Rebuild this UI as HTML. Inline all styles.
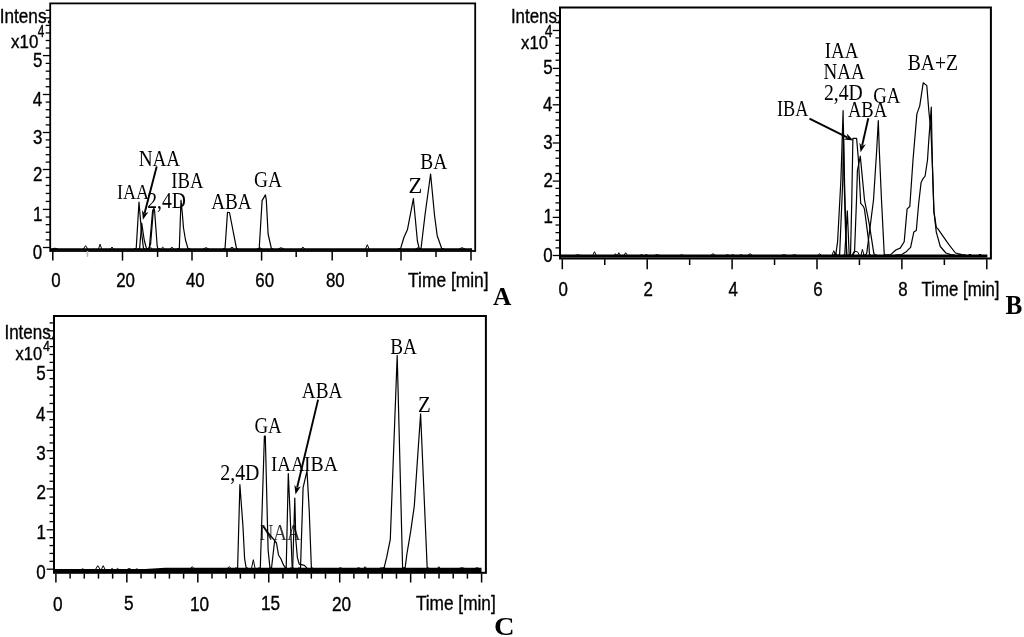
<!DOCTYPE html>
<html><head><meta charset="utf-8"><style>
html,body{margin:0;padding:0;background:#fff;}
svg{display:block;will-change:transform;}
</style></head><body>
<svg width="1024" height="637" viewBox="0 0 1024 637">
<rect width="1024" height="637" fill="#fff"/>
<rect x="50.20" y="3.40" width="425.00" height="247.60" fill="none" stroke="#000" stroke-width="1.8"/>
<line x1="42.90" y1="55.60" x2="50.20" y2="55.60" stroke="#000" stroke-width="1.3"/>
<line x1="42.90" y1="94.50" x2="50.20" y2="94.50" stroke="#000" stroke-width="1.3"/>
<line x1="42.90" y1="132.50" x2="50.20" y2="132.50" stroke="#000" stroke-width="1.3"/>
<line x1="42.90" y1="169.50" x2="50.20" y2="169.50" stroke="#000" stroke-width="1.3"/>
<line x1="42.90" y1="209.40" x2="50.20" y2="209.40" stroke="#000" stroke-width="1.3"/>
<line x1="42.90" y1="247.50" x2="50.20" y2="247.50" stroke="#000" stroke-width="1.3"/>
<line x1="45.70" y1="239.88" x2="50.20" y2="239.88" stroke="#000" stroke-width="1.3"/>
<line x1="45.70" y1="232.26" x2="50.20" y2="232.26" stroke="#000" stroke-width="1.3"/>
<line x1="45.70" y1="224.64" x2="50.20" y2="224.64" stroke="#000" stroke-width="1.3"/>
<line x1="45.70" y1="217.02" x2="50.20" y2="217.02" stroke="#000" stroke-width="1.3"/>
<line x1="45.70" y1="201.42" x2="50.20" y2="201.42" stroke="#000" stroke-width="1.3"/>
<line x1="45.70" y1="193.44" x2="50.20" y2="193.44" stroke="#000" stroke-width="1.3"/>
<line x1="45.70" y1="185.46" x2="50.20" y2="185.46" stroke="#000" stroke-width="1.3"/>
<line x1="45.70" y1="177.48" x2="50.20" y2="177.48" stroke="#000" stroke-width="1.3"/>
<line x1="45.70" y1="162.10" x2="50.20" y2="162.10" stroke="#000" stroke-width="1.3"/>
<line x1="45.70" y1="154.70" x2="50.20" y2="154.70" stroke="#000" stroke-width="1.3"/>
<line x1="45.70" y1="147.30" x2="50.20" y2="147.30" stroke="#000" stroke-width="1.3"/>
<line x1="45.70" y1="139.90" x2="50.20" y2="139.90" stroke="#000" stroke-width="1.3"/>
<line x1="45.70" y1="124.90" x2="50.20" y2="124.90" stroke="#000" stroke-width="1.3"/>
<line x1="45.70" y1="117.30" x2="50.20" y2="117.30" stroke="#000" stroke-width="1.3"/>
<line x1="45.70" y1="109.70" x2="50.20" y2="109.70" stroke="#000" stroke-width="1.3"/>
<line x1="45.70" y1="102.10" x2="50.20" y2="102.10" stroke="#000" stroke-width="1.3"/>
<line x1="45.70" y1="86.72" x2="50.20" y2="86.72" stroke="#000" stroke-width="1.3"/>
<line x1="45.70" y1="78.94" x2="50.20" y2="78.94" stroke="#000" stroke-width="1.3"/>
<line x1="45.70" y1="71.16" x2="50.20" y2="71.16" stroke="#000" stroke-width="1.3"/>
<line x1="45.70" y1="63.38" x2="50.20" y2="63.38" stroke="#000" stroke-width="1.3"/>
<line x1="45.70" y1="48.05" x2="50.20" y2="48.05" stroke="#000" stroke-width="1.3"/>
<line x1="45.70" y1="40.50" x2="50.20" y2="40.50" stroke="#000" stroke-width="1.3"/>
<line x1="45.70" y1="32.95" x2="50.20" y2="32.95" stroke="#000" stroke-width="1.3"/>
<line x1="45.70" y1="25.40" x2="50.20" y2="25.40" stroke="#000" stroke-width="1.3"/>
<line x1="45.70" y1="10.30" x2="50.20" y2="10.30" stroke="#000" stroke-width="1.3"/>
<line x1="42.90" y1="17.85" x2="50.20" y2="17.85" stroke="#000" stroke-width="1.3"/>
<text transform="translate(32.92,66.75) scale(0.870,1)" font-family='"Liberation Sans", sans-serif' font-weight="normal" font-size="19.40" fill="#000" stroke="#000" stroke-width="0.35" >5</text>
<text transform="translate(32.71,105.65) scale(0.870,1)" font-family='"Liberation Sans", sans-serif' font-weight="normal" font-size="19.40" fill="#000" stroke="#000" stroke-width="0.35" >4</text>
<text transform="translate(32.95,143.85) scale(0.870,1)" font-family='"Liberation Sans", sans-serif' font-weight="normal" font-size="19.40" fill="#000" stroke="#000" stroke-width="0.35" >3</text>
<text transform="translate(33.06,180.85) scale(0.870,1)" font-family='"Liberation Sans", sans-serif' font-weight="normal" font-size="19.40" fill="#000" stroke="#000" stroke-width="0.35" >2</text>
<text transform="translate(33.04,220.55) scale(0.870,1)" font-family='"Liberation Sans", sans-serif' font-weight="normal" font-size="19.40" fill="#000" stroke="#000" stroke-width="0.35" >1</text>
<text transform="translate(32.87,258.85) scale(0.870,1)" font-family='"Liberation Sans", sans-serif' font-weight="normal" font-size="19.40" fill="#000" stroke="#000" stroke-width="0.35" >0</text>
<line x1="52.80" y1="251.00" x2="52.80" y2="260.60" stroke="#000" stroke-width="1.5"/>
<line x1="122.50" y1="251.00" x2="122.50" y2="260.60" stroke="#000" stroke-width="1.5"/>
<line x1="192.00" y1="251.00" x2="192.00" y2="260.60" stroke="#000" stroke-width="1.5"/>
<line x1="261.60" y1="251.00" x2="261.60" y2="260.60" stroke="#000" stroke-width="1.5"/>
<line x1="332.20" y1="251.00" x2="332.20" y2="260.60" stroke="#000" stroke-width="1.5"/>
<line x1="401.00" y1="251.00" x2="401.00" y2="260.60" stroke="#000" stroke-width="1.5"/>
<line x1="471.00" y1="251.00" x2="471.00" y2="260.60" stroke="#000" stroke-width="1.5"/>
<line x1="87.50" y1="251.00" x2="87.50" y2="256.90" stroke="#bbb" stroke-width="1.5"/>
<line x1="157.60" y1="251.00" x2="157.60" y2="256.90" stroke="#000" stroke-width="1.5"/>
<line x1="227.00" y1="251.00" x2="227.00" y2="256.90" stroke="#000" stroke-width="1.5"/>
<line x1="296.20" y1="251.00" x2="296.20" y2="256.90" stroke="#000" stroke-width="1.5"/>
<line x1="367.00" y1="251.00" x2="367.00" y2="256.90" stroke="#000" stroke-width="1.5"/>
<line x1="436.00" y1="251.00" x2="436.00" y2="256.90" stroke="#000" stroke-width="1.5"/>
<text transform="translate(51.31,286.95) scale(0.870,1)" font-family='"Liberation Sans", sans-serif' font-weight="normal" font-size="19.40" fill="#000" stroke="#000" stroke-width="0.35" >0</text>
<text transform="translate(116.22,286.95) scale(0.870,1)" font-family='"Liberation Sans", sans-serif' font-weight="normal" font-size="19.40" fill="#000" stroke="#000" stroke-width="0.35" >20</text>
<text transform="translate(185.95,286.95) scale(0.870,1)" font-family='"Liberation Sans", sans-serif' font-weight="normal" font-size="19.40" fill="#000" stroke="#000" stroke-width="0.35" >40</text>
<text transform="translate(255.31,286.95) scale(0.870,1)" font-family='"Liberation Sans", sans-serif' font-weight="normal" font-size="19.40" fill="#000" stroke="#000" stroke-width="0.35" >60</text>
<text transform="translate(325.98,286.95) scale(0.870,1)" font-family='"Liberation Sans", sans-serif' font-weight="normal" font-size="19.40" fill="#000" stroke="#000" stroke-width="0.35" >80</text>
<text transform="translate(408.11,286.90) scale(0.879,1)" font-family='"Liberation Sans", sans-serif' font-weight="normal" font-size="19.77" fill="#000" stroke="#000" stroke-width="0.35" >Time [min]</text>
<text transform="translate(492.95,304.60) scale(0.969,1)" font-family='"Liberation Serif", serif' font-weight="bold" font-size="26.21" fill="#000" >A</text>
<text transform="translate(-0.29,22.70) scale(0.863,1)" font-family='"Liberation Sans", sans-serif' font-weight="normal" font-size="19.91" fill="#000" stroke="#000" stroke-width="0.35" >Intens.</text>
<text transform="translate(11.11,47.70) scale(0.922,1)" font-family='"Liberation Sans", sans-serif' font-weight="normal" font-size="18.33" fill="#000" stroke="#000" stroke-width="0.35" >x10</text>
<text transform="translate(37.83,37.20) scale(0.725,1)" font-family='"Liberation Sans", sans-serif' font-weight="normal" font-size="16.42" fill="#000" stroke="#000" stroke-width="0.35" >4</text>
<text transform="translate(138.65,166.00) scale(0.862,1)" font-family='"Liberation Serif", serif' font-weight="normal" font-size="22.27" fill="#000" >NAA</text>
<text transform="translate(116.95,199.40) scale(0.824,1)" font-family='"Liberation Serif", serif' font-weight="normal" font-size="21.96" fill="#000" >IAA</text>
<text transform="translate(147.24,208.30) scale(0.883,1)" font-family='"Liberation Serif", serif' font-weight="normal" font-size="22.20" fill="#000" >2,4D</text>
<text transform="translate(171.32,187.70) scale(0.823,1)" font-family='"Liberation Serif", serif' font-weight="normal" font-size="22.72" fill="#000" >IBA</text>
<text transform="translate(211.21,208.50) scale(0.845,1)" font-family='"Liberation Serif", serif' font-weight="normal" font-size="22.72" fill="#000" >ABA</text>
<text transform="translate(254.00,186.50) scale(0.829,1)" font-family='"Liberation Serif", serif' font-weight="normal" font-size="23.41" fill="#000" >GA</text>
<text transform="translate(408.52,193.00) scale(1.015,1)" font-family='"Liberation Serif", serif' font-weight="normal" font-size="22.30" fill="#000" >Z</text>
<text transform="translate(420.24,168.80) scale(0.855,1)" font-family='"Liberation Serif", serif' font-weight="normal" font-size="22.72" fill="#000" >BA</text>
<line x1="156.70" y1="166.50" x2="144.65" y2="213.02" stroke="#000" stroke-width="1.9"/>
<polygon points="142.9,219.8 142.0,210.3 144.5,213.5 148.4,211.9" fill="#000"/>
<line x1="50.20" y1="249.30" x2="472.10" y2="249.30" stroke="#000" stroke-width="2.2"/>
<polyline points="134.0,248.7 136.2,248.7 139.0,202.0 141.5,232.0 143.5,248.7 145.0,248.7" fill="none" stroke="#000" stroke-width="1.2" stroke-linejoin="round" />
<polyline points="138.0,248.7 139.6,248.7 141.7,223.0 144.2,240.0 146.5,248.7 148.0,248.7" fill="none" stroke="#000" stroke-width="1.2" stroke-linejoin="round" />
<polyline points="146.5,248.7 149.2,248.7 149.6,245.0 152.6,211.0 153.9,208.2 154.6,211.0 157.2,246.0 157.8,248.7 160.0,248.7" fill="none" stroke="#000" stroke-width="1.2" stroke-linejoin="round" />
<polyline points="148.5,248.7 150.6,244.0 153.4,209.5" fill="none" stroke="#000" stroke-width="1.2" stroke-linejoin="round" />
<polyline points="177.0,248.7 179.3,248.7 181.0,200.2 182.3,213.0 183.5,228.0 185.5,240.0 188.0,248.7 190.0,248.7" fill="none" stroke="#000" stroke-width="1.2" stroke-linejoin="round" />
<polyline points="223.0,248.7 225.0,248.7 227.5,212.3 229.5,212.5 236.5,248.7 238.0,248.7" fill="none" stroke="#000" stroke-width="1.2" stroke-linejoin="round" />
<polyline points="257.0,248.7 259.2,248.7 262.1,200.6 265.4,194.9 266.3,200.0 268.1,234.0 271.4,248.7 273.0,248.7" fill="none" stroke="#000" stroke-width="1.2" stroke-linejoin="round" />
<polyline points="398.0,248.7 400.6,248.7 403.9,237.5 407.5,229.4 413.4,198.7 417.4,241.0 419.2,248.7 421.0,248.7" fill="none" stroke="#000" stroke-width="1.2" stroke-linejoin="round" />
<polyline points="419.0,248.7 421.0,248.7 425.0,215.0 430.6,174.0 434.5,215.0 437.2,235.7 441.8,248.7 444.0,248.7" fill="none" stroke="#000" stroke-width="1.2" stroke-linejoin="round" />
<polyline points="51.8,249.0 54.8,248.2 57.8,249.0" fill="none" stroke="#000" stroke-width="1.0" stroke-linejoin="round" />
<polyline points="83.4,249.0 85.6,245.7 87.8,249.0" fill="none" stroke="#000" stroke-width="1.0" stroke-linejoin="round" />
<polyline points="98.5,249.0 100.1,244.2 101.7,249.0" fill="none" stroke="#000" stroke-width="1.0" stroke-linejoin="round" />
<polyline points="110.0,249.0 112.0,247.2 114.0,249.0" fill="none" stroke="#000" stroke-width="1.0" stroke-linejoin="round" />
<polyline points="148.4,249.0 150.4,247.2 152.4,249.0" fill="none" stroke="#000" stroke-width="1.0" stroke-linejoin="round" />
<polyline points="160.7,249.0 162.7,247.2 164.7,249.0" fill="none" stroke="#000" stroke-width="1.0" stroke-linejoin="round" />
<polyline points="169.9,249.0 171.9,247.2 173.9,249.0" fill="none" stroke="#000" stroke-width="1.0" stroke-linejoin="round" />
<polyline points="203.0,249.0 206.0,247.7 209.0,249.0" fill="none" stroke="#000" stroke-width="1.0" stroke-linejoin="round" />
<polyline points="229.5,249.0 232.0,247.2 234.5,249.0" fill="none" stroke="#000" stroke-width="1.0" stroke-linejoin="round" />
<polyline points="258.0,249.0 260.0,247.7 262.0,249.0" fill="none" stroke="#000" stroke-width="1.0" stroke-linejoin="round" />
<polyline points="278.0,249.0 281.0,247.7 284.0,249.0" fill="none" stroke="#000" stroke-width="1.0" stroke-linejoin="round" />
<polyline points="300.9,249.0 302.9,247.2 304.9,249.0" fill="none" stroke="#000" stroke-width="1.0" stroke-linejoin="round" />
<polyline points="365.5,249.0 367.3,244.7 369.1,249.0" fill="none" stroke="#000" stroke-width="1.0" stroke-linejoin="round" />
<polyline points="415.5,249.0 418.0,247.7 420.5,249.0" fill="none" stroke="#000" stroke-width="1.0" stroke-linejoin="round" />
<polyline points="459.0,249.0 462.0,247.7 465.0,249.0" fill="none" stroke="#000" stroke-width="1.0" stroke-linejoin="round" />
<rect x="560.00" y="7.50" width="430.90" height="251.00" fill="none" stroke="#000" stroke-width="2.0"/>
<line x1="552.70" y1="255.50" x2="560.00" y2="255.50" stroke="#000" stroke-width="1.3"/>
<line x1="555.50" y1="247.88" x2="560.00" y2="247.88" stroke="#000" stroke-width="1.3"/>
<line x1="555.50" y1="240.26" x2="560.00" y2="240.26" stroke="#000" stroke-width="1.3"/>
<line x1="555.50" y1="232.64" x2="560.00" y2="232.64" stroke="#000" stroke-width="1.3"/>
<line x1="555.50" y1="225.02" x2="560.00" y2="225.02" stroke="#000" stroke-width="1.3"/>
<text transform="translate(543.27,261.75) scale(0.870,1)" font-family='"Liberation Sans", sans-serif' font-weight="normal" font-size="19.40" fill="#000" stroke="#000" stroke-width="0.35" >0</text>
<line x1="552.70" y1="217.40" x2="560.00" y2="217.40" stroke="#000" stroke-width="1.3"/>
<line x1="555.50" y1="210.14" x2="560.00" y2="210.14" stroke="#000" stroke-width="1.3"/>
<line x1="555.50" y1="202.88" x2="560.00" y2="202.88" stroke="#000" stroke-width="1.3"/>
<line x1="555.50" y1="195.62" x2="560.00" y2="195.62" stroke="#000" stroke-width="1.3"/>
<line x1="555.50" y1="188.36" x2="560.00" y2="188.36" stroke="#000" stroke-width="1.3"/>
<text transform="translate(543.44,223.45) scale(0.870,1)" font-family='"Liberation Sans", sans-serif' font-weight="normal" font-size="19.40" fill="#000" stroke="#000" stroke-width="0.35" >1</text>
<line x1="552.70" y1="181.10" x2="560.00" y2="181.10" stroke="#000" stroke-width="1.3"/>
<line x1="555.50" y1="173.48" x2="560.00" y2="173.48" stroke="#000" stroke-width="1.3"/>
<line x1="555.50" y1="165.86" x2="560.00" y2="165.86" stroke="#000" stroke-width="1.3"/>
<line x1="555.50" y1="158.24" x2="560.00" y2="158.24" stroke="#000" stroke-width="1.3"/>
<line x1="555.50" y1="150.62" x2="560.00" y2="150.62" stroke="#000" stroke-width="1.3"/>
<text transform="translate(543.46,187.35) scale(0.870,1)" font-family='"Liberation Sans", sans-serif' font-weight="normal" font-size="19.40" fill="#000" stroke="#000" stroke-width="0.35" >2</text>
<line x1="552.70" y1="143.00" x2="560.00" y2="143.00" stroke="#000" stroke-width="1.3"/>
<line x1="555.50" y1="135.36" x2="560.00" y2="135.36" stroke="#000" stroke-width="1.3"/>
<line x1="555.50" y1="127.72" x2="560.00" y2="127.72" stroke="#000" stroke-width="1.3"/>
<line x1="555.50" y1="120.08" x2="560.00" y2="120.08" stroke="#000" stroke-width="1.3"/>
<line x1="555.50" y1="112.44" x2="560.00" y2="112.44" stroke="#000" stroke-width="1.3"/>
<text transform="translate(543.35,149.25) scale(0.870,1)" font-family='"Liberation Sans", sans-serif' font-weight="normal" font-size="19.40" fill="#000" stroke="#000" stroke-width="0.35" >3</text>
<line x1="552.70" y1="104.80" x2="560.00" y2="104.80" stroke="#000" stroke-width="1.3"/>
<line x1="555.50" y1="97.52" x2="560.00" y2="97.52" stroke="#000" stroke-width="1.3"/>
<line x1="555.50" y1="90.24" x2="560.00" y2="90.24" stroke="#000" stroke-width="1.3"/>
<line x1="555.50" y1="82.96" x2="560.00" y2="82.96" stroke="#000" stroke-width="1.3"/>
<line x1="555.50" y1="75.68" x2="560.00" y2="75.68" stroke="#000" stroke-width="1.3"/>
<text transform="translate(543.11,110.85) scale(0.870,1)" font-family='"Liberation Sans", sans-serif' font-weight="normal" font-size="19.40" fill="#000" stroke="#000" stroke-width="0.35" >4</text>
<line x1="552.70" y1="68.40" x2="560.00" y2="68.40" stroke="#000" stroke-width="1.3"/>
<text transform="translate(543.32,74.45) scale(0.870,1)" font-family='"Liberation Sans", sans-serif' font-weight="normal" font-size="19.40" fill="#000" stroke="#000" stroke-width="0.35" >5</text>
<line x1="555.50" y1="60.20" x2="560.00" y2="60.20" stroke="#000" stroke-width="1.3"/>
<line x1="555.50" y1="53.30" x2="560.00" y2="53.30" stroke="#000" stroke-width="1.3"/>
<line x1="555.50" y1="45.40" x2="560.00" y2="45.40" stroke="#000" stroke-width="1.3"/>
<line x1="555.50" y1="37.90" x2="560.00" y2="37.90" stroke="#000" stroke-width="1.3"/>
<line x1="555.50" y1="22.60" x2="560.00" y2="22.60" stroke="#000" stroke-width="1.3"/>
<line x1="555.50" y1="15.70" x2="560.00" y2="15.70" stroke="#000" stroke-width="1.3"/>
<line x1="552.70" y1="30.50" x2="560.00" y2="30.50" stroke="#000" stroke-width="1.3"/>
<line x1="562.30" y1="259.30" x2="562.30" y2="269.20" stroke="#000" stroke-width="1.5"/>
<line x1="604.75" y1="259.30" x2="604.75" y2="265.00" stroke="#000" stroke-width="1.5"/>
<line x1="647.20" y1="259.30" x2="647.20" y2="269.20" stroke="#000" stroke-width="1.5"/>
<line x1="689.65" y1="259.30" x2="689.65" y2="265.00" stroke="#000" stroke-width="1.5"/>
<line x1="732.10" y1="259.30" x2="732.10" y2="269.20" stroke="#000" stroke-width="1.5"/>
<line x1="774.55" y1="259.30" x2="774.55" y2="265.00" stroke="#000" stroke-width="1.5"/>
<line x1="817.00" y1="259.30" x2="817.00" y2="269.20" stroke="#000" stroke-width="1.5"/>
<line x1="859.45" y1="259.30" x2="859.45" y2="265.00" stroke="#000" stroke-width="1.5"/>
<line x1="901.90" y1="259.30" x2="901.90" y2="269.20" stroke="#000" stroke-width="1.5"/>
<line x1="944.35" y1="259.30" x2="944.35" y2="265.00" stroke="#000" stroke-width="1.5"/>
<line x1="986.80" y1="259.30" x2="986.80" y2="269.20" stroke="#000" stroke-width="1.5"/>
<text transform="translate(558.61,295.95) scale(0.870,1)" font-family='"Liberation Sans", sans-serif' font-weight="normal" font-size="19.40" fill="#000" stroke="#000" stroke-width="0.35" >0</text>
<text transform="translate(643.51,295.95) scale(0.870,1)" font-family='"Liberation Sans", sans-serif' font-weight="normal" font-size="19.40" fill="#000" stroke="#000" stroke-width="0.35" >2</text>
<text transform="translate(728.46,295.75) scale(0.870,1)" font-family='"Liberation Sans", sans-serif' font-weight="normal" font-size="19.40" fill="#000" stroke="#000" stroke-width="0.35" >4</text>
<text transform="translate(813.25,295.95) scale(0.870,1)" font-family='"Liberation Sans", sans-serif' font-weight="normal" font-size="19.40" fill="#000" stroke="#000" stroke-width="0.35" >6</text>
<text transform="translate(898.21,295.95) scale(0.870,1)" font-family='"Liberation Sans", sans-serif' font-weight="normal" font-size="19.40" fill="#000" stroke="#000" stroke-width="0.35" >8</text>
<text transform="translate(921.62,296.00) scale(0.851,1)" font-family='"Liberation Sans", sans-serif' font-weight="normal" font-size="19.77" fill="#000" stroke="#000" stroke-width="0.35" >Time [min]</text>
<text transform="translate(1005.58,313.60) scale(0.960,1)" font-family='"Liberation Serif", serif' font-weight="bold" font-size="26.27" fill="#000" >B</text>
<text transform="translate(510.94,22.70) scale(0.847,1)" font-family='"Liberation Sans", sans-serif' font-weight="normal" font-size="19.91" fill="#000" stroke="#000" stroke-width="0.35" >Intens.</text>
<text transform="translate(521.11,48.60) scale(0.887,1)" font-family='"Liberation Sans", sans-serif' font-weight="normal" font-size="18.76" fill="#000" stroke="#000" stroke-width="0.35" >x10</text>
<text transform="translate(544.68,36.50) scale(0.831,1)" font-family='"Liberation Sans", sans-serif' font-weight="normal" font-size="16.72" fill="#000" stroke="#000" stroke-width="0.35" >4</text>
<text transform="translate(824.71,57.60) scale(0.819,1)" font-family='"Liberation Serif", serif' font-weight="normal" font-size="23.18" fill="#000" >IAA</text>
<text transform="translate(823.55,78.70) scale(0.839,1)" font-family='"Liberation Serif", serif' font-weight="normal" font-size="22.72" fill="#000" >NAA</text>
<text transform="translate(823.93,99.80) scale(0.870,1)" font-family='"Liberation Serif", serif' font-weight="normal" font-size="22.65" fill="#000" >2,4D</text>
<text transform="translate(777.04,115.80) scale(0.802,1)" font-family='"Liberation Serif", serif' font-weight="normal" font-size="22.72" fill="#000" >IBA</text>
<text transform="translate(847.92,116.50) scale(0.834,1)" font-family='"Liberation Serif", serif' font-weight="normal" font-size="22.27" fill="#000" >ABA</text>
<text transform="translate(873.13,103.30) scale(0.832,1)" font-family='"Liberation Serif", serif' font-weight="normal" font-size="22.65" fill="#000" >GA</text>
<text transform="translate(907.73,69.90) scale(0.842,1)" font-family='"Liberation Serif", serif' font-weight="normal" font-size="23.33" fill="#000" >BA+Z</text>
<line x1="809.50" y1="118.60" x2="847.14" y2="137.38" stroke="#000" stroke-width="1.9"/>
<polygon points="853.4,140.5 843.9,139.4 847.6,137.6 846.8,133.5" fill="#000"/>
<line x1="868.30" y1="118.20" x2="862.14" y2="145.47" stroke="#000" stroke-width="1.9"/>
<polygon points="860.6,152.3 859.4,142.8 862.0,146.0 865.8,144.2" fill="#000"/>
<line x1="560.00" y1="256.00" x2="987.40" y2="256.00" stroke="#000" stroke-width="3.0"/>
<polyline points="832.0,255.2 835.7,255.2 837.6,241.7 840.9,180.0 843.1,110.7 844.1,180.0 845.5,230.0 847.0,255.2" fill="none" stroke="#000" stroke-width="1.2" stroke-linejoin="round" />
<polyline points="836.0,255.2 839.6,255.2 842.8,180.0 843.4,125.0 844.5,180.0 846.5,255.2" fill="none" stroke="#000" stroke-width="1.2" stroke-linejoin="round" />
<polyline points="843.0,255.2 844.7,255.2 847.3,210.8 849.2,255.2 851.0,255.2" fill="none" stroke="#000" stroke-width="1.2" stroke-linejoin="round" />
<polyline points="848.0,255.2 850.5,255.2 851.8,200.0 852.9,138.3 856.6,138.3 858.4,159.4 860.7,203.3 863.5,206.6 864.5,209.4 868.8,242.4 869.5,255.2 871.0,255.2" fill="none" stroke="#000" stroke-width="1.2" stroke-linejoin="round" />
<polyline points="852.0,255.2 854.6,250.8 856.5,200.0 857.4,170.7 860.3,156.1 864.5,200.0 869.2,223.6 873.9,253.8 875.5,255.2 877.0,255.2" fill="none" stroke="#000" stroke-width="1.2" stroke-linejoin="round" />
<polyline points="863.0,255.2 865.5,255.2 866.8,252.8 873.5,200.0 876.7,150.0 878.3,120.7 879.3,150.0 881.5,200.0 884.3,255.2 886.0,255.2" fill="none" stroke="#000" stroke-width="1.2" stroke-linejoin="round" />
<polyline points="885.0,255.2 890.6,254.6 896.2,249.7 900.2,248.1 904.2,241.7 907.1,208.9 909.8,206.5 913.0,160.0 916.9,113.9 919.7,106.1 923.2,82.8 926.8,85.6 928.9,111.8 931.0,131.6 932.4,165.0 933.9,211.3 936.3,227.3 937.9,228.9 949.1,244.9 955.5,253.0 961.9,254.6 966.0,255.2" fill="none" stroke="#000" stroke-width="1.2" stroke-linejoin="round" />
<polyline points="895.0,255.2 901.8,254.6 905.8,252.1 910.6,247.3 913.8,232.1 916.3,230.5 918.7,203.3 921.1,182.4 922.7,179.2 925.1,176.0 927.5,160.0 928.9,138.6 931.3,107.2 932.4,165.0 933.9,211.3 936.3,232.1 940.3,246.5 945.9,253.0 950.7,254.6 955.0,255.2" fill="none" stroke="#000" stroke-width="1.2" stroke-linejoin="round" />
<polyline points="832.0,255.2 833.8,250.7 835.5,255.2" fill="none" stroke="#000" stroke-width="1.0" stroke-linejoin="round" />
<polyline points="853.0,255.2 855.0,251.3 857.5,251.8 859.5,255.2" fill="none" stroke="#000" stroke-width="1.0" stroke-linejoin="round" />
<polyline points="861.0,255.2 862.4,249.4 864.0,255.2" fill="none" stroke="#000" stroke-width="1.0" stroke-linejoin="round" />
<polyline points="574.8,255.5 577.8,254.7 580.8,255.5" fill="none" stroke="#000" stroke-width="1.0" stroke-linejoin="round" />
<polyline points="592.7,255.5 594.5,251.7 596.3,255.5" fill="none" stroke="#000" stroke-width="1.0" stroke-linejoin="round" />
<polyline points="613.9,255.5 615.4,253.7 616.9,255.5" fill="none" stroke="#000" stroke-width="1.0" stroke-linejoin="round" />
<polyline points="617.3,255.5 618.8,252.7 620.3,255.5" fill="none" stroke="#000" stroke-width="1.0" stroke-linejoin="round" />
<polyline points="623.7,255.5 625.7,252.7 627.7,255.5" fill="none" stroke="#000" stroke-width="1.0" stroke-linejoin="round" />
<polyline points="639.4,255.5 641.4,254.7 643.4,255.5" fill="none" stroke="#000" stroke-width="1.0" stroke-linejoin="round" />
<polyline points="644.2,255.5 646.2,254.7 648.2,255.5" fill="none" stroke="#000" stroke-width="1.0" stroke-linejoin="round" />
<polyline points="654.1,255.5 657.1,254.7 660.1,255.5" fill="none" stroke="#000" stroke-width="1.0" stroke-linejoin="round" />
<polyline points="679.8,255.5 681.8,254.7 683.8,255.5" fill="none" stroke="#000" stroke-width="1.0" stroke-linejoin="round" />
<polyline points="710.5,255.5 713.0,253.7 715.5,255.5" fill="none" stroke="#000" stroke-width="1.0" stroke-linejoin="round" />
<polyline points="725.4,255.5 727.4,254.7 729.4,255.5" fill="none" stroke="#000" stroke-width="1.0" stroke-linejoin="round" />
<polyline points="730.8,255.5 732.8,254.7 734.8,255.5" fill="none" stroke="#000" stroke-width="1.0" stroke-linejoin="round" />
<polyline points="739.0,255.5 741.0,254.7 743.0,255.5" fill="none" stroke="#000" stroke-width="1.0" stroke-linejoin="round" />
<polyline points="747.5,255.5 750.0,253.7 752.5,255.5" fill="none" stroke="#000" stroke-width="1.0" stroke-linejoin="round" />
<polyline points="781.0,255.5 784.0,254.7 787.0,255.5" fill="none" stroke="#000" stroke-width="1.0" stroke-linejoin="round" />
<polyline points="791.4,255.5 794.4,254.7 797.4,255.5" fill="none" stroke="#000" stroke-width="1.0" stroke-linejoin="round" />
<polyline points="817.7,255.5 819.7,253.7 821.7,255.5" fill="none" stroke="#000" stroke-width="1.0" stroke-linejoin="round" />
<polyline points="833.9,255.5 835.4,252.7 836.9,255.5" fill="none" stroke="#000" stroke-width="1.0" stroke-linejoin="round" />
<polyline points="957.0,255.5 960.0,254.7 963.0,255.5" fill="none" stroke="#000" stroke-width="1.0" stroke-linejoin="round" />
<polyline points="968.0,255.5 970.0,254.2 972.0,255.5" fill="none" stroke="#000" stroke-width="1.0" stroke-linejoin="round" />
<polyline points="978.0,255.5 980.0,254.2 982.0,255.5" fill="none" stroke="#000" stroke-width="1.0" stroke-linejoin="round" />
<rect x="54.00" y="316.00" width="431.90" height="256.80" fill="none" stroke="#000" stroke-width="2.0"/>
<line x1="46.70" y1="370.30" x2="54.00" y2="370.30" stroke="#000" stroke-width="1.3"/>
<text transform="translate(36.33,379.78) scale(0.870,1)" font-family='"Liberation Sans", sans-serif' font-weight="normal" font-size="19.60" fill="#000" stroke="#000" stroke-width="0.35" >5</text>
<line x1="46.70" y1="411.80" x2="54.00" y2="411.80" stroke="#000" stroke-width="1.3"/>
<text transform="translate(36.12,421.28) scale(0.870,1)" font-family='"Liberation Sans", sans-serif' font-weight="normal" font-size="19.60" fill="#000" stroke="#000" stroke-width="0.35" >4</text>
<line x1="46.70" y1="450.70" x2="54.00" y2="450.70" stroke="#000" stroke-width="1.3"/>
<text transform="translate(36.37,460.39) scale(0.870,1)" font-family='"Liberation Sans", sans-serif' font-weight="normal" font-size="19.60" fill="#000" stroke="#000" stroke-width="0.35" >3</text>
<line x1="46.70" y1="488.90" x2="54.00" y2="488.90" stroke="#000" stroke-width="1.3"/>
<text transform="translate(36.47,498.59) scale(0.870,1)" font-family='"Liberation Sans", sans-serif' font-weight="normal" font-size="19.60" fill="#000" stroke="#000" stroke-width="0.35" >2</text>
<line x1="46.70" y1="529.80" x2="54.00" y2="529.80" stroke="#000" stroke-width="1.3"/>
<text transform="translate(36.45,539.28) scale(0.870,1)" font-family='"Liberation Sans", sans-serif' font-weight="normal" font-size="19.60" fill="#000" stroke="#000" stroke-width="0.35" >1</text>
<line x1="46.70" y1="569.20" x2="54.00" y2="569.20" stroke="#000" stroke-width="1.3"/>
<text transform="translate(36.28,578.89) scale(0.870,1)" font-family='"Liberation Sans", sans-serif' font-weight="normal" font-size="19.60" fill="#000" stroke="#000" stroke-width="0.35" >0</text>
<line x1="49.50" y1="561.32" x2="54.00" y2="561.32" stroke="#000" stroke-width="1.3"/>
<line x1="49.50" y1="553.44" x2="54.00" y2="553.44" stroke="#000" stroke-width="1.3"/>
<line x1="49.50" y1="545.56" x2="54.00" y2="545.56" stroke="#000" stroke-width="1.3"/>
<line x1="49.50" y1="537.68" x2="54.00" y2="537.68" stroke="#000" stroke-width="1.3"/>
<line x1="49.50" y1="521.62" x2="54.00" y2="521.62" stroke="#000" stroke-width="1.3"/>
<line x1="49.50" y1="513.44" x2="54.00" y2="513.44" stroke="#000" stroke-width="1.3"/>
<line x1="49.50" y1="505.26" x2="54.00" y2="505.26" stroke="#000" stroke-width="1.3"/>
<line x1="49.50" y1="497.08" x2="54.00" y2="497.08" stroke="#000" stroke-width="1.3"/>
<line x1="49.50" y1="481.26" x2="54.00" y2="481.26" stroke="#000" stroke-width="1.3"/>
<line x1="49.50" y1="473.62" x2="54.00" y2="473.62" stroke="#000" stroke-width="1.3"/>
<line x1="49.50" y1="465.98" x2="54.00" y2="465.98" stroke="#000" stroke-width="1.3"/>
<line x1="49.50" y1="458.34" x2="54.00" y2="458.34" stroke="#000" stroke-width="1.3"/>
<line x1="49.50" y1="442.92" x2="54.00" y2="442.92" stroke="#000" stroke-width="1.3"/>
<line x1="49.50" y1="435.14" x2="54.00" y2="435.14" stroke="#000" stroke-width="1.3"/>
<line x1="49.50" y1="427.36" x2="54.00" y2="427.36" stroke="#000" stroke-width="1.3"/>
<line x1="49.50" y1="419.58" x2="54.00" y2="419.58" stroke="#000" stroke-width="1.3"/>
<line x1="49.50" y1="403.50" x2="54.00" y2="403.50" stroke="#000" stroke-width="1.3"/>
<line x1="49.50" y1="395.20" x2="54.00" y2="395.20" stroke="#000" stroke-width="1.3"/>
<line x1="49.50" y1="386.90" x2="54.00" y2="386.90" stroke="#000" stroke-width="1.3"/>
<line x1="49.50" y1="378.60" x2="54.00" y2="378.60" stroke="#000" stroke-width="1.3"/>
<line x1="49.50" y1="362.40" x2="54.00" y2="362.40" stroke="#000" stroke-width="1.3"/>
<line x1="49.50" y1="354.50" x2="54.00" y2="354.50" stroke="#000" stroke-width="1.3"/>
<line x1="49.50" y1="346.60" x2="54.00" y2="346.60" stroke="#000" stroke-width="1.3"/>
<line x1="49.50" y1="338.70" x2="54.00" y2="338.70" stroke="#000" stroke-width="1.3"/>
<line x1="49.50" y1="322.90" x2="54.00" y2="322.90" stroke="#000" stroke-width="1.3"/>
<line x1="46.70" y1="330.80" x2="54.00" y2="330.80" stroke="#000" stroke-width="1.3"/>
<line x1="55.90" y1="573.50" x2="55.90" y2="582.50" stroke="#000" stroke-width="1.5"/>
<line x1="70.09" y1="573.50" x2="70.09" y2="578.60" stroke="#000" stroke-width="1.5"/>
<line x1="84.28" y1="573.50" x2="84.28" y2="578.60" stroke="#000" stroke-width="1.5"/>
<line x1="98.47" y1="573.50" x2="98.47" y2="578.60" stroke="#000" stroke-width="1.5"/>
<line x1="112.66" y1="573.50" x2="112.66" y2="578.60" stroke="#000" stroke-width="1.5"/>
<line x1="126.85" y1="573.50" x2="126.85" y2="582.50" stroke="#000" stroke-width="1.5"/>
<line x1="141.04" y1="573.50" x2="141.04" y2="578.60" stroke="#000" stroke-width="1.5"/>
<line x1="155.23" y1="573.50" x2="155.23" y2="578.60" stroke="#000" stroke-width="1.5"/>
<line x1="169.42" y1="573.50" x2="169.42" y2="578.60" stroke="#000" stroke-width="1.5"/>
<line x1="183.61" y1="573.50" x2="183.61" y2="578.60" stroke="#000" stroke-width="1.5"/>
<line x1="197.80" y1="573.50" x2="197.80" y2="582.50" stroke="#000" stroke-width="1.5"/>
<line x1="211.99" y1="573.50" x2="211.99" y2="578.60" stroke="#000" stroke-width="1.5"/>
<line x1="226.18" y1="573.50" x2="226.18" y2="578.60" stroke="#000" stroke-width="1.5"/>
<line x1="240.37" y1="573.50" x2="240.37" y2="578.60" stroke="#000" stroke-width="1.5"/>
<line x1="254.56" y1="573.50" x2="254.56" y2="578.60" stroke="#000" stroke-width="1.5"/>
<line x1="268.75" y1="573.50" x2="268.75" y2="582.50" stroke="#000" stroke-width="1.5"/>
<line x1="282.94" y1="573.50" x2="282.94" y2="578.60" stroke="#000" stroke-width="1.5"/>
<line x1="297.13" y1="573.50" x2="297.13" y2="578.60" stroke="#000" stroke-width="1.5"/>
<line x1="311.32" y1="573.50" x2="311.32" y2="578.60" stroke="#000" stroke-width="1.5"/>
<line x1="325.51" y1="573.50" x2="325.51" y2="578.60" stroke="#000" stroke-width="1.5"/>
<line x1="339.70" y1="573.50" x2="339.70" y2="582.50" stroke="#000" stroke-width="1.5"/>
<line x1="353.89" y1="573.50" x2="353.89" y2="578.60" stroke="#000" stroke-width="1.5"/>
<line x1="368.08" y1="573.50" x2="368.08" y2="578.60" stroke="#000" stroke-width="1.5"/>
<line x1="382.27" y1="573.50" x2="382.27" y2="578.60" stroke="#000" stroke-width="1.5"/>
<line x1="396.46" y1="573.50" x2="396.46" y2="578.60" stroke="#000" stroke-width="1.5"/>
<line x1="410.65" y1="573.50" x2="410.65" y2="582.50" stroke="#000" stroke-width="1.5"/>
<line x1="424.84" y1="573.50" x2="424.84" y2="578.60" stroke="#000" stroke-width="1.5"/>
<line x1="439.03" y1="573.50" x2="439.03" y2="578.60" stroke="#000" stroke-width="1.5"/>
<line x1="453.22" y1="573.50" x2="453.22" y2="578.60" stroke="#000" stroke-width="1.5"/>
<line x1="467.41" y1="573.50" x2="467.41" y2="578.60" stroke="#000" stroke-width="1.5"/>
<line x1="481.60" y1="573.50" x2="481.60" y2="582.50" stroke="#000" stroke-width="1.5"/>
<text transform="translate(53.11,610.63) scale(0.870,1)" font-family='"Liberation Sans", sans-serif' font-weight="normal" font-size="19.80" fill="#000" stroke="#000" stroke-width="0.35" >0</text>
<text transform="translate(124.08,610.42) scale(0.870,1)" font-family='"Liberation Sans", sans-serif' font-weight="normal" font-size="19.80" fill="#000" stroke="#000" stroke-width="0.35" >5</text>
<text transform="translate(189.90,610.63) scale(0.870,1)" font-family='"Liberation Sans", sans-serif' font-weight="normal" font-size="19.80" fill="#000" stroke="#000" stroke-width="0.35" >10</text>
<text transform="translate(260.88,610.42) scale(0.870,1)" font-family='"Liberation Sans", sans-serif' font-weight="normal" font-size="19.80" fill="#000" stroke="#000" stroke-width="0.35" >15</text>
<text transform="translate(332.02,610.63) scale(0.870,1)" font-family='"Liberation Sans", sans-serif' font-weight="normal" font-size="19.80" fill="#000" stroke="#000" stroke-width="0.35" >20</text>
<text transform="translate(415.91,610.00) scale(0.866,1)" font-family='"Liberation Sans", sans-serif' font-weight="normal" font-size="19.91" fill="#000" stroke="#000" stroke-width="0.35" >Time [min]</text>
<text transform="translate(494.01,634.80) scale(1.135,1)" font-family='"Liberation Serif", serif' font-weight="bold" font-size="25.07" fill="#000" >C</text>
<text transform="translate(4.43,338.70) scale(0.855,1)" font-family='"Liberation Sans", sans-serif' font-weight="normal" font-size="19.91" fill="#000" stroke="#000" stroke-width="0.35" >Intens.</text>
<text transform="translate(15.52,360.20) scale(0.870,1)" font-family='"Liberation Sans", sans-serif' font-weight="normal" font-size="18.90" fill="#000" stroke="#000" stroke-width="0.35" >x10</text>
<text transform="translate(43.01,350.80) scale(0.804,1)" font-family='"Liberation Sans", sans-serif' font-weight="normal" font-size="15.55" fill="#000" stroke="#000" stroke-width="0.35" >4</text>
<text transform="translate(301.81,397.80) scale(0.830,1)" font-family='"Liberation Serif", serif' font-weight="normal" font-size="23.18" fill="#000" >ABA</text>
<text transform="translate(254.42,432.70) scale(0.855,1)" font-family='"Liberation Serif", serif' font-weight="normal" font-size="22.20" fill="#000" >GA</text>
<text transform="translate(220.22,479.90) scale(0.903,1)" font-family='"Liberation Serif", serif' font-weight="normal" font-size="22.05" fill="#000" >2,4D</text>
<text transform="translate(270.91,470.60) scale(0.882,1)" font-family='"Liberation Serif", serif' font-weight="normal" font-size="21.51" fill="#000" >IAA</text>
<text transform="translate(303.99,470.60) scale(0.917,1)" font-family='"Liberation Serif", serif' font-weight="normal" font-size="21.51" fill="#000" >IBA</text>
<text transform="translate(418.00,412.20) scale(0.916,1)" font-family='"Liberation Serif", serif' font-weight="normal" font-size="22.76" fill="#000" >Z</text>
<text transform="translate(390.15,354.00) scale(0.829,1)" font-family='"Liberation Serif", serif' font-weight="normal" font-size="23.18" fill="#000" >BA</text>
<text transform="translate(259.76,540.40) scale(0.834,1)" font-family='"Liberation Serif", serif' font-weight="normal" font-size="22.57" fill="#333" >NAA</text>
<line x1="318.10" y1="399.60" x2="297.12" y2="487.59" stroke="#000" stroke-width="1.9"/>
<polygon points="295.5,494.4 294.4,484.9 297.0,488.1 300.8,486.4" fill="#000"/>
<polygon points="54,569.1 145,569.1 165,567.7 481.5,567.7 481.5,572 54,572" fill="#000"/>
<polyline points="235.0,568.2 237.6,568.2 239.9,484.7 243.0,527.0 244.6,558.5 246.2,568.2 248.0,568.2" fill="none" stroke="#000" stroke-width="1.2" stroke-linejoin="round" />
<polyline points="258.0,568.2 260.3,568.2 264.4,436.0 265.3,436.0 268.1,550.0 270.0,568.2 272.0,568.2" fill="none" stroke="#000" stroke-width="1.2" stroke-linejoin="round" />
<polyline points="269.0,568.2 271.5,568.2 274.6,541.0 276.5,543.0 278.5,555.0 281.0,559.0 283.7,565.4 286.0,568.2" fill="none" stroke="#000" stroke-width="1.2" stroke-linejoin="round" />
<polyline points="263.0,526.6 275.9,542.0" fill="none" stroke="#000" stroke-width="1.2" stroke-linejoin="round" />
<polyline points="284.0,568.2 286.2,568.2 288.3,473.5 290.1,513.6 292.2,568.2 294.0,568.2" fill="none" stroke="#000" stroke-width="1.2" stroke-linejoin="round" />
<polyline points="290.0,568.2 292.7,568.2 294.8,498.0 295.8,539.5 297.4,557.7 299.2,564.1 304.4,565.4 307.0,568.2" fill="none" stroke="#000" stroke-width="1.2" stroke-linejoin="round" />
<polyline points="298.0,568.2 300.5,568.2 303.1,487.7 307.0,470.9 309.2,510.0 311.4,568.2 313.0,568.2" fill="none" stroke="#000" stroke-width="1.2" stroke-linejoin="round" />
<polyline points="380.0,568.2 384.0,568.2 386.6,557.7 390.3,539.3 397.2,355.4 402.6,568.2 405.0,568.2" fill="none" stroke="#000" stroke-width="1.2" stroke-linejoin="round" />
<polyline points="403.0,568.2 405.1,568.2 406.9,554.0 410.6,531.9 414.3,506.0 420.6,413.8 427.2,568.2 429.0,568.2" fill="none" stroke="#000" stroke-width="1.2" stroke-linejoin="round" />
<polyline points="80.7,569.7 82.7,568.9 84.7,569.7" fill="none" stroke="#000" stroke-width="1.0" stroke-linejoin="round" />
<polyline points="95.3,569.7 97.8,565.7 100.3,569.7" fill="none" stroke="#000" stroke-width="1.0" stroke-linejoin="round" />
<polyline points="101.2,569.7 103.2,565.7 105.2,569.7" fill="none" stroke="#000" stroke-width="1.0" stroke-linejoin="round" />
<polyline points="110.6,569.7 112.1,568.4 113.6,569.7" fill="none" stroke="#000" stroke-width="1.0" stroke-linejoin="round" />
<polyline points="116.1,569.7 117.6,568.4 119.1,569.7" fill="none" stroke="#000" stroke-width="1.0" stroke-linejoin="round" />
<polyline points="126.7,569.7 129.2,568.4 131.7,569.7" fill="none" stroke="#000" stroke-width="1.0" stroke-linejoin="round" />
<polyline points="134.8,569.7 136.8,568.9 138.8,569.7" fill="none" stroke="#000" stroke-width="1.0" stroke-linejoin="round" />
<polyline points="190.2,568.5 192.2,566.7 194.2,568.5" fill="none" stroke="#000" stroke-width="1.0" stroke-linejoin="round" />
<polyline points="227.2,568.5 229.2,566.7 231.2,568.5" fill="none" stroke="#000" stroke-width="1.0" stroke-linejoin="round" />
<polyline points="251.5,568.5 253.3,559.7 255.1,568.5" fill="none" stroke="#000" stroke-width="1.0" stroke-linejoin="round" />
<polyline points="338.5,568.5 340.5,567.7 342.5,568.5" fill="none" stroke="#000" stroke-width="1.0" stroke-linejoin="round" />
<polyline points="356.6,568.5 358.6,567.7 360.6,568.5" fill="none" stroke="#000" stroke-width="1.0" stroke-linejoin="round" />
<polyline points="363.6,568.5 365.1,566.7 366.6,568.5" fill="none" stroke="#000" stroke-width="1.0" stroke-linejoin="round" />
<polyline points="381.9,568.5 383.9,567.7 385.9,568.5" fill="none" stroke="#000" stroke-width="1.0" stroke-linejoin="round" />
<polyline points="437.3,568.5 438.8,566.7 440.3,568.5" fill="none" stroke="#000" stroke-width="1.0" stroke-linejoin="round" />
<polyline points="458.9,568.5 461.9,567.7 464.9,568.5" fill="none" stroke="#000" stroke-width="1.0" stroke-linejoin="round" />
<polyline points="475.0,568.5 477.0,567.7 479.0,568.5" fill="none" stroke="#000" stroke-width="1.0" stroke-linejoin="round" />
</svg>
</body></html>
